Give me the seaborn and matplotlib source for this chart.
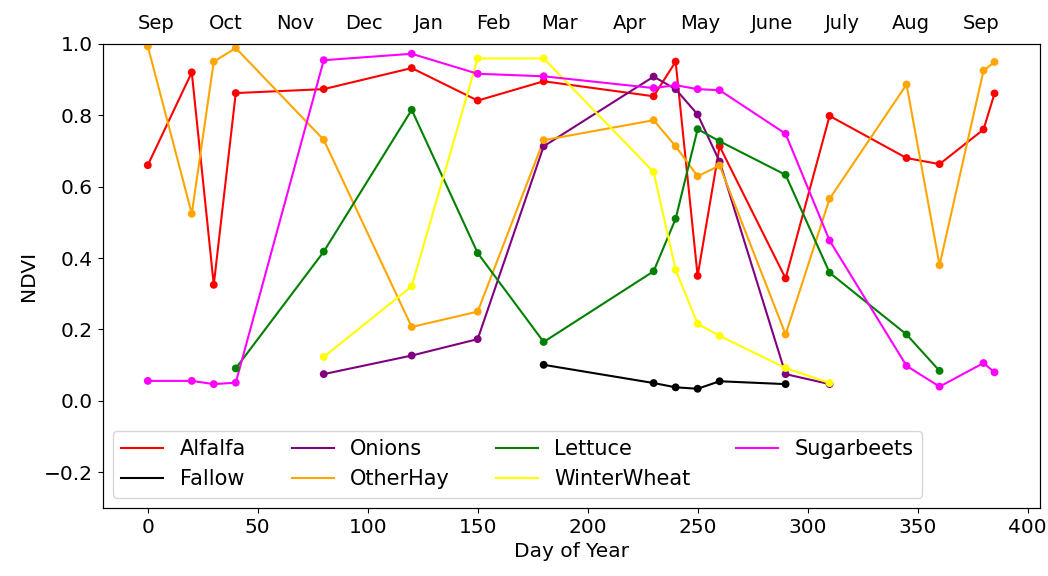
import matplotlib
matplotlib.use("Agg")
import matplotlib.pyplot as plt
import seaborn as sns
import pandas as pd

# ---- data ----
alfalfa_day = [0, 20, 30, 40, 80, 120, 150, 180, 230, 240, 250, 260, 290, 310, 345, 360, 380, 385]
alfalfa_ndvi = [0.66, 0.92, 0.325, 0.862, 0.873, 0.932, 0.841, 0.895, 0.853, 0.95, 0.35, 0.713, 0.343, 0.798, 0.68, 0.663, 0.76, 0.861]

fallow_day = [180, 230, 240, 250, 260, 290]
fallow_ndvi = [0.101, 0.05, 0.038, 0.034, 0.055, 0.047]

onions_day = [80, 120, 150, 180, 230, 240, 250, 260, 290, 310]
onions_ndvi = [0.075, 0.127, 0.173, 0.713, 0.908, 0.873, 0.802, 0.67, 0.075, 0.047]

otherhay_day = [0, 20, 30, 40, 80, 120, 150, 180, 230, 240, 250, 260, 290, 310, 345, 360, 380, 385]
otherhay_ndvi = [0.993, 0.524, 0.95, 0.988, 0.731, 0.207, 0.25, 0.73, 0.786, 0.713, 0.629, 0.659, 0.186, 0.566, 0.886, 0.38, 0.925, 0.949]

lettuce_day = [40, 80, 120, 150, 180, 230, 240, 250, 260, 290, 310, 345, 360]
lettuce_ndvi = [0.091, 0.418, 0.815, 0.414, 0.165, 0.363, 0.51, 0.761, 0.727, 0.633, 0.359, 0.186, 0.084]

wheat_day = [80, 120, 150, 180, 230, 240, 250, 260, 290, 310]
wheat_ndvi = [0.123, 0.321, 0.959, 0.959, 0.641, 0.367, 0.216, 0.182, 0.092, 0.05]

sugar_day = [0, 20, 30, 40, 80, 120, 150, 180, 230, 240, 250, 260, 290, 310, 345, 360, 380, 385]
sugar_ndvi = [0.056, 0.056, 0.047, 0.051, 0.954, 0.972, 0.916, 0.909, 0.876, 0.884, 0.873, 0.87, 0.748, 0.449, 0.098, 0.04, 0.106, 0.08]

crops = ["Alfalfa", "Fallow", "Onions", "OtherHay", "Lettuce", "WinterWheat", "Sugarbeets"]
crop_colors = ["red", "black", "purple", "orange", "green", "yellow", "magenta"]

month_labels = ["Sep", "Oct", "Nov", "Dec", "Jan", "Feb", "Mar", "Apr", "May", "June", "July", "Aug", "Sep"]
month_pos = [4, 35.5, 67, 98.5, 128, 157, 187, 219, 251, 284, 316, 347, 379]

series = {
    "Alfalfa": (alfalfa_day, alfalfa_ndvi),
    "Fallow": (fallow_day, fallow_ndvi),
    "Onions": (onions_day, onions_ndvi),
    "OtherHay": (otherhay_day, otherhay_ndvi),
    "Lettuce": (lettuce_day, lettuce_ndvi),
    "WinterWheat": (wheat_day, wheat_ndvi),
    "Sugarbeets": (sugar_day, sugar_ndvi),
}
frames = []
for name in crops:
    d, v = series[name]
    frames.append(pd.DataFrame({"day": d, "ndvi": v, "crop": name}))
df = pd.concat(frames, ignore_index=True)

# ---- plot ----
FS = 14.5
plt.rcParams["font.family"] = ["DejaVu Sans"]
plt.rcParams["font.size"] = FS
fig, ax = plt.subplots(figsize=(10.48, 5.76), dpi=100)
fig.subplots_adjust(left=0.098, right=0.992, top=0.924, bottom=0.118)

palette = dict(zip(crops, crop_colors))
sns.lineplot(data=df, x="day", y="ndvi", hue="crop", hue_order=crops, palette=palette,
             sort=False, estimator=None, linewidth=1.5, ax=ax)
sns.scatterplot(data=df, x="day", y="ndvi", hue="crop", hue_order=crops, palette=palette,
                s=32, edgecolor="none", legend=False, ax=ax, zorder=3)

ax.set_xlim(-20.5, 405.5)
ax.set_ylim(-0.3, 1.0)
ax.set_xlabel("Day of Year", fontsize=FS)
ax.set_ylabel("NDVI", fontsize=FS)
ax.tick_params(labelsize=FS)

sns.move_legend(ax, "lower left", ncol=4, title=None, frameon=True, fontsize=15,
                columnspacing=2.2)

ax2 = ax.twiny()
ax2.set_xlim(ax.get_xlim())
ax2.set_xticks(month_pos)
ax2.set_xticklabels(month_labels, fontsize=14)
ax2.tick_params(axis="x", length=0, pad=8)

fig.savefig("out.png", dpi=100)
